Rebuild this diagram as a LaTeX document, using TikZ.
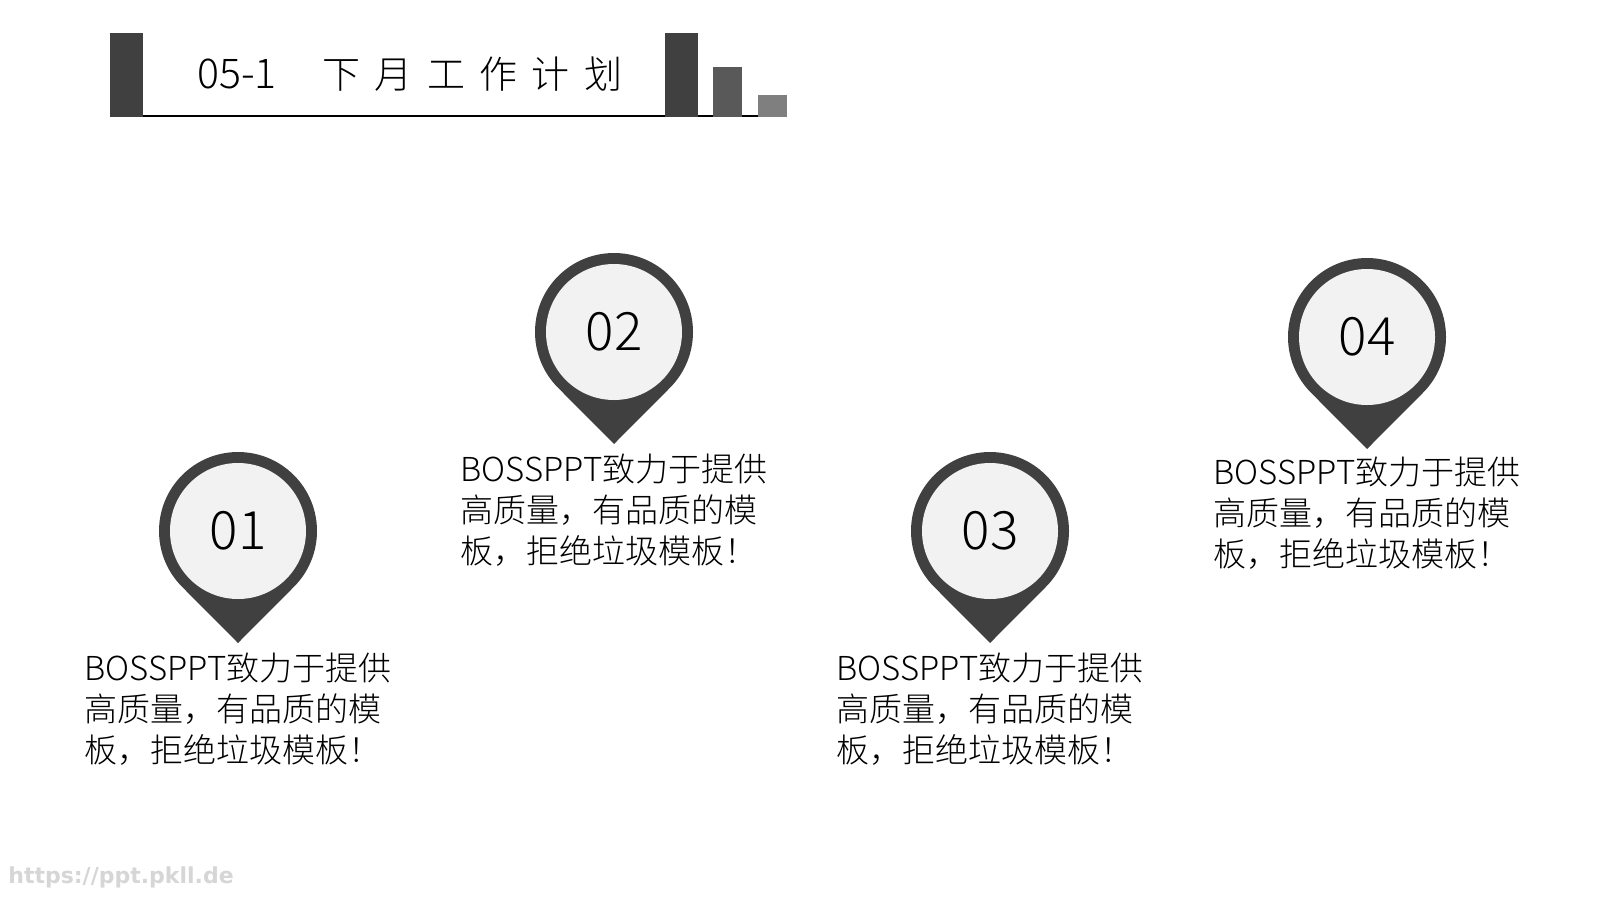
\documentclass[tikz,border=0pt]{standalone}
\usepackage{fontspec}
\usetikzlibrary{calc}
\IfFontExistsTF{Noto Sans CJK SC Light}
 {\newfontfamily\cjk{Noto Sans CJK SC Light}}
 {\newfontfamily\cjk{Noto Sans CJK SC}}
\newfontfamily\wmfont{DejaVu Sans}
\definecolor{pindark}{HTML}{404040}
\definecolor{disc}{HTML}{F2F2F2}
\definecolor{barmid}{HTML}{595959}
\definecolor{barlight}{HTML}{7F7F7F}
\definecolor{wmgrey}{HTML}{D6D6D6}
\newcommand\mypin[4]{%
  \coordinate (#1c) at (#2,#3);
  \fill[pindark] ($(#1c)+(0,-112)$) coordinate (#1tip) -- ($(#1c)+(-45:79)$)
    arc[start angle=-45,end angle=225,radius=39.5pt] -- cycle;
  \node[innerdisc] (#1) at (#1c) {#4};
}
\begin{document}
\begin{tikzpicture}[x=0.5pt,y=0.5pt,
  innerdisc/.style={circle,fill=disc,minimum size=68pt,inner sep=0pt,
    font=\cjk\fontsize{26.5}{30}\selectfont},
  bodytext/.style={anchor=north,align=left,inner sep=0pt,
    font=\cjk\fontsize{16.5}{20.5}\selectfont},
  titletext/.style={anchor=west,inner sep=0pt,font=\cjk\fontsize{19}{22}\selectfont}]
\useasboundingbox (0,0) rectangle (1600,-900);
\fill[white] (0,0) rectangle (1600,-900);
% header
\draw[line width=0.75pt] (127,-116) -- (772,-116);
\fill[pindark] (110,-33) rectangle (143,-117);
\fill[pindark] (665,-33) rectangle (698,-117);
\fill[barmid] (713,-67) rectangle (742,-117);
\fill[barlight] (758,-95) rectangle (787,-117);
\node[titletext,font=\cjk\fontsize{20.5}{22}\selectfont] (tnum) at (197,-74) {05-1};
\node[titletext] (ttext) at (322,-74) {下\kern7.2pt月\kern7.2pt工\kern7.2pt作\kern7.2pt计\kern7.2pt划};
% pins
\mypin{p1}{238}{-531}{01}
\mypin{p2}{614}{-332}{02}
\mypin{p3}{990}{-531}{03}
\mypin{p4}{1367}{-337}{04}
% texts
\node[bodytext] (t1) at (238,-653) {BOSSPPT致力于提供\\高质量，有品质的模\\板，拒绝垃圾模板！};
\node[bodytext] (t2) at (614,-454) {BOSSPPT致力于提供\\高质量，有品质的模\\板，拒绝垃圾模板！};
\node[bodytext] (t3) at (990,-653) {BOSSPPT致力于提供\\高质量，有品质的模\\板，拒绝垃圾模板！};
\node[bodytext] (t4) at (1367,-457) {BOSSPPT致力于提供\\高质量，有品质的模\\板，拒绝垃圾模板！};
% watermark
\node[anchor=west,inner sep=0pt,text=wmgrey,font=\wmfont\bfseries\fontsize{11}{13}\selectfont] (wm) at (8,-877) {https://ppt.pkll.de};
\end{tikzpicture}
\end{document}
